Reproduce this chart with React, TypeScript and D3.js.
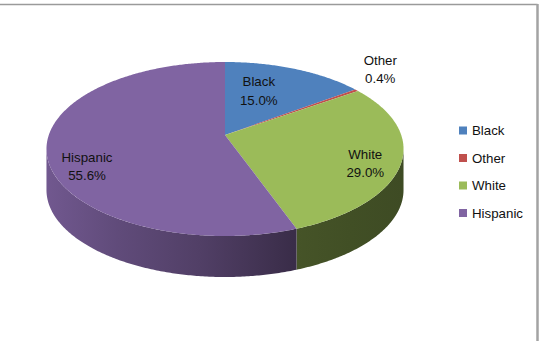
import * as d3 from "d3";
import { useRef, useEffect } from "react";

const categories = ["Black", "Other", "White", "Hispanic"];
const shares = [15.0, 0.4, 29.0, 55.6];
const shareLabels = ["15.0%", "0.4%", "29.0%", "55.6%"];
const colors = ["#4F81BD", "#C0504D", "#9BBB59", "#8064A2"];

const width = 543, height = 341;
// tilted disc: centre, projected radii, perspective strength and thickness
const cx = 225, cy = 135, rx = 176.2, ry = 84.75, persp = 0.161, depth = 41;

// label placement: radius as a share of the pie radius, then a small nudge
const labelRadius = [0.55, 1.2, 0.83, 0.8];
const labelNudge = [[-7, -6], [0, -13], [-5, 6], [4, 19]];

// how dark the side wall gets, left to right
const shadeStops = [[0, 0.88], [0.2, 0.75], [0.43, 0.63], [0.69, 0.45], [0.85, 0.42], [1, 0.4]];

function project(a: number, r = 1, dy = 0): [number, number] {
  const u = r * Math.sin(a), v = r * Math.cos(a);
  const w = 1 + persp * v;
  return [cx + (rx * u) / w, cy - (ry * v) / w + dy];
}

function rim(a0: number, a1: number, dy: number): [number, number][] {
  const n = Math.max(2, Math.ceil(Math.abs(a1 - a0) / 0.01));
  return d3.range(n + 1).map((i) => project(a0 + ((a1 - a0) * i) / n, 1, dy));
}

export default function App() {
  const containerRef = useRef<HTMLDivElement>(null);

  useEffect(() => {
    const root = d3.select(containerRef.current);
    root.select("svg").remove();

    const svg = root
      .append("svg")
      .attr("width", width)
      .attr("height", height)
      .style("position", "absolute")
      .style("left", "0px")
      .style("top", "0px")
      .style("background", "#fff")
      .style("font-family", "'Liberation Sans', Arial, sans-serif");

    const arcs = d3.pie<number>().sort(null).startAngle(0).endAngle(2 * Math.PI)(shares);
    const line = d3.line().curve(d3.curveLinear);

    // the front half of the wall is the only part we see
    const aR = Math.acos(-persp), aL = 2 * Math.PI - aR;
    const xLeft = project(aL)[0], xRight = project(aR)[0];

    const defs = svg.append("defs");
    colors.forEach((c, i) => {
      const g = defs
        .append("linearGradient")
        .attr("id", "side" + i)
        .attr("gradientUnits", "userSpaceOnUse")
        .attr("x1", xLeft)
        .attr("x2", xRight)
        .attr("y1", 0)
        .attr("y2", 0);
      const base = d3.rgb(c);
      shadeStops.forEach(([t, k]) => {
        g.append("stop")
          .attr("offset", t)
          .attr("stop-color", d3.rgb(base.r * k, base.g * k, base.b * k).formatHex());
      });
    });

    // side walls
    arcs.forEach((d, i) => {
      const s0 = Math.max(d.startAngle, aR), s1 = Math.min(d.endAngle, aL);
      if (s1 <= s0) return;
      const pts = rim(s0, s1, 0).concat(rim(s1, s0, depth));
      svg.append("path")
        .attr("d", line(pts) + "Z")
        .attr("fill", `url(#side${i})`);
    });

    // top faces
    arcs.forEach((d, i) => {
      const pts = [project(0, 0) as [number, number]].concat(rim(d.startAngle, d.endAngle, 0));
      svg.append("path")
        .attr("d", line(pts) + "Z")
        .attr("fill", colors[i]);
    });

    // data labels
    arcs.forEach((d, i) => {
      const mid = (d.startAngle + d.endAngle) / 2;
      const [x, y] = project(mid, labelRadius[i]);
      const lx = x + labelNudge[i][0], ly = y + labelNudge[i][1];
      const t = svg.append("text")
        .attr("text-anchor", "middle")
        .attr("dominant-baseline", "central")
        .style("font-size", "13.3px")
        .attr("fill", "#111");
      t.append("tspan").attr("x", lx).attr("y", ly - 9.2).text(categories[i]);
      t.append("tspan").attr("x", lx).attr("y", ly + 9.2).text(shareLabels[i]);
    });

    // legend
    const legendY = d3.scalePoint<string>().domain(categories).range([130.5, 213]);
    const legend = svg.append("g");
    categories.forEach((c, i) => {
      const y = legendY(c) as number;
      legend.append("rect")
        .attr("x", 459)
        .attr("y", y - 4)
        .attr("width", 8)
        .attr("height", 8)
        .attr("fill", colors[i]);
      legend.append("text")
        .attr("x", 472)
        .attr("y", y)
        .attr("dominant-baseline", "central")
        .style("font-size", "13.3px")
        .attr("fill", "#111")
        .text(c);
    });

    // chart frame (only top and right edges show)
    svg.append("line")
      .attr("x1", 0).attr("x2", 537.5)
      .attr("y1", 4.5).attr("y2", 4.5)
      .attr("stroke", "#9a9a9a")
      .attr("stroke-width", 1.5);
    svg.append("line")
      .attr("x1", 537.5).attr("x2", 537.5)
      .attr("y1", 4).attr("y2", height)
      .attr("stroke", "#a3a3a3")
      .attr("stroke-width", 2.5);
  }, []);

  return <div className="chartBox" ref={containerRef}></div>;
}
